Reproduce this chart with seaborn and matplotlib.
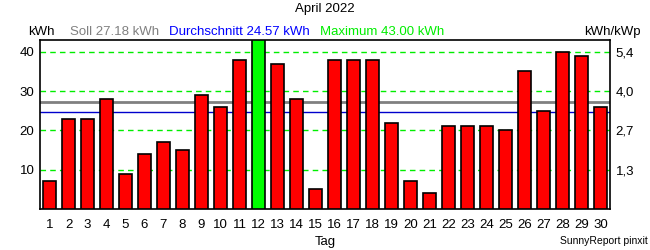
import matplotlib
matplotlib.use("Agg")
import matplotlib.pyplot as plt
import seaborn as sns
import pandas as pd

days = [str(d) for d in range(1, 31)]
energy = [7, 23, 23, 28, 9, 14, 17, 15, 29, 26, 38, 43, 37, 28, 5, 38, 38, 38, 22, 7,
          4, 21, 21, 21, 20, 35, 25, 40, 39, 26]
soll = 27.18
avg = 24.57
maximum = 43.00
left_ticks = [10, 20, 30, 40]
right_labels = ["1,3", "2,7", "4,0", "5,4"]

sns.set_theme(style="white")
plt.rcParams['font.family'] = ['Liberation Sans', 'DejaVu Sans']

df = pd.DataFrame({"Tag": days, "kWh": energy})
colors = {d: ("#00ff00" if v == max(energy) else "#ff0000") for d, v in zip(days, energy)}

fig = plt.figure(figsize=(6.5, 2.5), dpi=100)
ax = fig.add_axes([40/650, 1-209/250, 570/650, 169/250])
sns.barplot(data=df, x="Tag", y="kWh", hue="Tag", palette=colors, legend=False,
            saturation=1, edgecolor="black", linewidth=1.2, width=0.68, ax=ax, zorder=3)
ax.set_xlim(-0.5, 29.5)
ax.set_ylim(0, 43)
for t in left_ticks:
    ax.axhline(t, color="#00ee00", linestyle=(0, (4, 3)), linewidth=1, zorder=1)
ax.axhline(soll, color="#808080", linewidth=2, zorder=2)
ax.axhline(avg, color="#0000cc", linewidth=1, zorder=2)
ax.set_yticks(left_ticks)
ax.set_yticklabels([str(t) for t in left_ticks], fontsize=9.5)
ax.tick_params(axis="y", length=0, pad=4, labelsize=9.5, colors="black")
ax.tick_params(axis="x", length=0, pad=7, labelsize=9.5, colors="black")
ax.set_xlabel("")
ax.set_ylabel("")
for s in ax.spines.values():
    s.set_color("black")
    s.set_linewidth(1.2)
    s.set_visible(True)

ax2 = ax.twinx()
ax2.set_ylim(0, 43)
ax2.set_yticks(left_ticks)
ax2.set_yticklabels(right_labels, fontsize=9.5)
ax2.tick_params(axis="y", length=0, pad=4, colors="black")
for s in ax2.spines.values():
    s.set_visible(False)

fs = 9.5
fig.text(325/650, 1-9/250, "April 2022", ha="center", va="center", fontsize=fs, color="black")
y_h = 1-32/250
fig.text(28/650, y_h, "kWh", ha="left", va="center", fontsize=fs, color="black")
fig.text(70/650, y_h, f"Soll {soll:.2f} kWh", ha="left", va="center", fontsize=fs, color="#808080")
fig.text(169/650, y_h, f"Durchschnitt {avg:.2f} kWh", ha="left", va="center", fontsize=fs, color="#0000ff")
fig.text(320/650, y_h, f"Maximum {maximum:.2f} kWh", ha="left", va="center", fontsize=fs, color="#00ee00")
fig.text(641/650, y_h, "kWh/kWp", ha="right", va="center", fontsize=fs, color="black")
fig.text(325/650, 1-242/250, "Tag", ha="center", va="center", fontsize=fs, color="black")
fig.text(648/650, 1-241/250, "SunnyReport pinxit", ha="right", va="center", fontsize=7.5, color="black")

fig.savefig("out.png", dpi=100, facecolor="white")
